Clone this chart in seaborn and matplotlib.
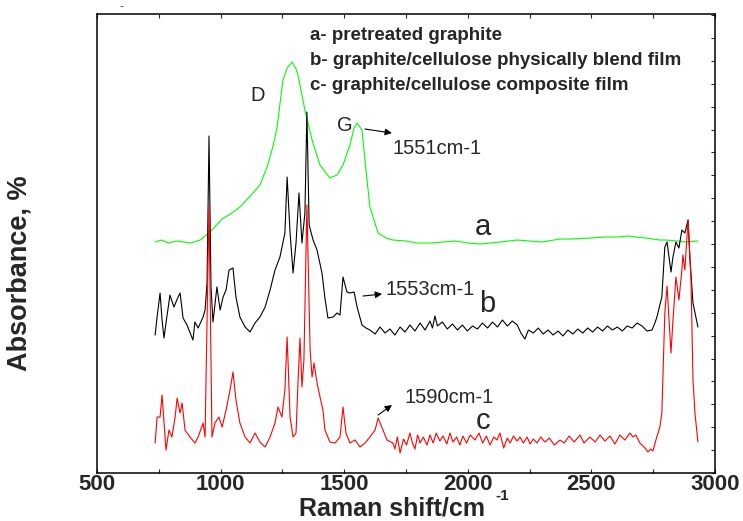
import matplotlib
matplotlib.use("Agg")
import matplotlib.pyplot as plt
from matplotlib.ticker import MultipleLocator
import pandas as pd
import seaborn as sns

# Raman shift (cm-1) / absorbance (arbitrary units)
a_shift = [735, 760, 790, 820, 850, 880, 917, 957, 1006, 1040,
           1078, 1120, 1159, 1188, 1210, 1228, 1252, 1269, 1289, 1305,
           1313, 1341, 1370, 1402, 1442, 1471, 1495, 1523, 1540, 1552,
           1572, 1588, 1604, 1637, 1670, 1697, 1750, 1794, 1850, 1900,
           1950, 2000, 2050, 2130, 2200, 2250, 2300, 2373, 2420, 2500,
           2550, 2603, 2650, 2680, 2720, 2777, 2800, 2850, 2880, 2931]
a_abs = [231, 233, 230, 232, 231, 230, 233, 241, 254, 259,
         266, 277, 288, 306, 325, 345, 393, 405, 411, 404,
         398, 363, 333, 308, 295, 298, 308, 328, 345, 350,
         343, 303, 266, 240, 235, 233, 232, 230, 230, 231,
         232, 230, 229, 231, 233, 232, 231, 234, 234, 235,
         236, 236, 237, 236, 235, 233, 233, 232, 231, 232]

b_shift = [735, 743, 755, 763, 771, 779, 795, 811, 828, 836,
           848, 864, 888, 896, 909, 929, 937, 945, 953, 961,
           969, 985, 998, 1010, 1022, 1034, 1050, 1062, 1078, 1099,
           1119, 1139, 1159, 1180, 1200, 1220, 1240, 1260, 1269, 1281,
           1293, 1305, 1317, 1329, 1341, 1349, 1358, 1374, 1390, 1410,
           1422, 1434, 1455, 1471, 1483, 1495, 1511, 1523, 1540, 1552,
           1572, 1588, 1604, 1625, 1645, 1665, 1685, 1705, 1726, 1746,
           1766, 1786, 1807, 1827, 1847, 1857, 1867, 1877, 1897, 1917,
           1938, 1958, 1978, 1998, 2019, 2039, 2059, 2080, 2100, 2120,
           2140, 2160, 2180, 2200, 2215, 2231, 2245, 2265, 2285, 2305,
           2325, 2345, 2365, 2385, 2405, 2425, 2445, 2465, 2485, 2505,
           2525, 2545, 2565, 2585, 2605, 2625, 2645, 2665, 2685, 2705,
           2725, 2745, 2757, 2765, 2785, 2797, 2806, 2822, 2830, 2842,
           2854, 2866, 2878, 2891, 2899, 2911, 2931]
b_abs = [138, 156, 180, 153, 135, 150, 178, 166, 176, 180,
         155, 148, 133, 151, 145, 156, 163, 190, 337, 186,
         151, 186, 163, 176, 183, 203, 205, 176, 156, 146,
         141, 150, 156, 166, 183, 203, 216, 240, 296, 240,
         200, 230, 280, 230, 260, 361, 248, 233, 223, 200,
         175, 155, 156, 160, 158, 196, 181, 180, 181, 166,
         148, 145, 143, 139, 146, 140, 144, 138, 146, 141,
         148, 142, 150, 143, 152, 145, 157, 147, 151, 144,
         149, 143, 148, 142, 147, 144, 150, 145, 151, 146,
         153, 147, 152, 148, 140, 134, 143, 140, 145, 139,
         143, 138, 142, 137, 143, 139, 144, 140, 145, 141,
         146, 142, 147, 143, 146, 142, 147, 145, 150, 147,
         142, 143, 150, 156, 176, 226, 231, 201, 216, 231,
         225, 243, 240, 253, 213, 170, 146]

c_shift = [735, 743, 755, 763, 771, 779, 791, 803, 816, 824,
           836, 844, 856, 876, 896, 909, 929, 937, 953, 965,
           977, 993, 1006, 1022, 1038, 1050, 1062, 1078, 1099, 1119,
           1139, 1159, 1180, 1200, 1220, 1232, 1248, 1260, 1269, 1281,
           1293, 1305, 1313, 1321, 1329, 1337, 1349, 1362, 1370, 1378,
           1390, 1402, 1414, 1422, 1442, 1463, 1483, 1495, 1507, 1523,
           1544, 1564, 1584, 1604, 1625, 1637, 1645, 1657, 1673, 1697,
           1705, 1715, 1726, 1740, 1752, 1766, 1776, 1786, 1797, 1807,
           1820, 1835, 1847, 1860, 1872, 1887, 1900, 1915, 1928, 1940,
           1955, 1968, 1980, 1995, 2010, 2029, 2045, 2060, 2075, 2090,
           2105, 2118, 2130, 2145, 2160, 2171, 2185, 2200, 2211, 2225,
           2240, 2252, 2265, 2280, 2295, 2312, 2330, 2350, 2373, 2390,
           2410, 2430, 2454, 2470, 2494, 2515, 2535, 2555, 2575, 2595,
           2615, 2635, 2656, 2668, 2680, 2696, 2717, 2729, 2740, 2749,
           2761, 2777, 2785, 2797, 2806, 2822, 2830, 2842, 2854, 2866,
           2870, 2878, 2891, 2903, 2911, 2919, 2931]
c_abs = [30, 56, 56, 78, 50, 23, 43, 36, 56, 75,
         60, 70, 43, 36, 30, 36, 50, 36, 266, 36,
         50, 56, 46, 63, 83, 101, 73, 50, 36, 30,
         40, 31, 26, 36, 50, 66, 56, 83, 136, 56,
         36, 40, 90, 135, 86, 113, 268, 123, 96, 110,
         90, 76, 63, 43, 31, 30, 36, 66, 40, 30,
         33, 26, 30, 36, 43, 55, 50, 43, 33, 30,
         24, 36, 20, 34, 28, 40, 30, 24, 38, 30,
         36, 28, 38, 30, 40, 32, 37, 29, 40, 31,
         36, 28, 37, 30, 38, 33, 40, 30, 37, 28,
         36, 33, 40, 25, 35, 30, 37, 32, 36, 30,
         36, 29, 34, 30, 36, 31, 35, 28, 33, 30,
         37, 31, 38, 30, 36, 31, 38, 32, 37, 29,
         38, 33, 40, 36, 38, 30, 25, 21, 24, 22,
         33, 46, 60, 160, 187, 120, 153, 196, 173, 203,
         218, 203, 253, 193, 93, 60, 31]

legend_lines = ["a- pretreated graphite",
                "b- graphite/cellulose physically blend film",
                "c- graphite/cellulose composite film"]

sns.set_style("ticks")
plt.rcParams["font.family"] = ["Liberation Sans", "DejaVu Sans"]

fig = plt.figure(figsize=(7.43, 5.21), dpi=100)
ax = fig.add_axes([0.1306, 0.0921, 0.8317, 0.881])

sns.lineplot(x=a_shift, y=a_abs, color="#00ff00", lw=0.8, ax=ax, sort=False)
sns.lineplot(x=b_shift, y=b_abs, color="black", lw=0.8, ax=ax, sort=False)
sns.lineplot(x=c_shift, y=c_abs, color="#ff0000", lw=0.8, ax=ax, sort=False)

ax.set_xlim(500, 3000)
ax.set_ylim(0, 459)
ax.xaxis.set_major_locator(MultipleLocator(500))
ax.xaxis.set_minor_locator(MultipleLocator(250))
ax.yaxis.set_major_locator(MultipleLocator(22.9))
ax.tick_params(axis="x", which="both", direction="in", top=True, length=3,
               width=0.8, pad=1, labelsize=16)
ax.tick_params(axis="y", which="both", direction="in", left=False, right=True,
               labelleft=False, length=3, width=0.8)
for lab in ax.get_xticklabels():
    lab.set_fontweight("bold")
for s in ax.spines.values():
    s.set_linewidth(1.1)
    s.set_color("black")

ax.set_xlabel("Raman shift/cm", fontsize=18, fontweight="bold")
ax.xaxis.label.set_va("baseline")
ax.xaxis.set_label_coords(0.478, -0.0915)
fig.text(495 / 743, 1 - 496 / 521, "-1", fontsize=11, fontweight="bold",
         ha="left", va="center")
ax.set_ylabel("Absorbance, %", fontsize=19.5, fontweight="bold")
ax.yaxis.set_label_coords(-0.104, 0.436)

# legend as plain text
for i, line in enumerate(legend_lines):
    ax.text(1362, 438 - 25 * i, line, fontsize=13.5, fontweight="bold",
            ha="left", va="center")

ax.text(1151, 378, "D", fontsize=14.5, ha="center", va="center")
ax.text(1503, 348, "G", fontsize=14.5, ha="center", va="center")
ax.text(1697, 325, "1551cm-1", fontsize=14.5, ha="left", va="center")
ax.text(1665, 184, "1553cm-1", fontsize=14.5, ha="left", va="center")
ax.text(1742, 76, "1590cm-1", fontsize=14.5, ha="left", va="center")
ax.text(2061, 246, "a", fontsize=21, ha="center", va="center")
ax.text(2078, 169, "b", fontsize=21, ha="center", va="center")
ax.text(2061, 52, "c", fontsize=21, ha="center", va="center")

arrow = dict(arrowstyle="-|>", color="black", lw=0.8, mutation_scale=10,
             shrinkA=0, shrinkB=0)
ax.annotate("", xy=(1693, 340), xytext=(1584, 344), arrowprops=arrow)
ax.annotate("", xy=(1653, 179), xytext=(1576, 177), arrowprops=arrow)
ax.annotate("", xy=(1693, 68), xytext=(1637, 58), arrowprops=arrow)

fig.text(121 / 743, 1 - 6 / 521, "-", fontsize=8, ha="center", va="center")

fig.savefig("out.png", dpi=100)
